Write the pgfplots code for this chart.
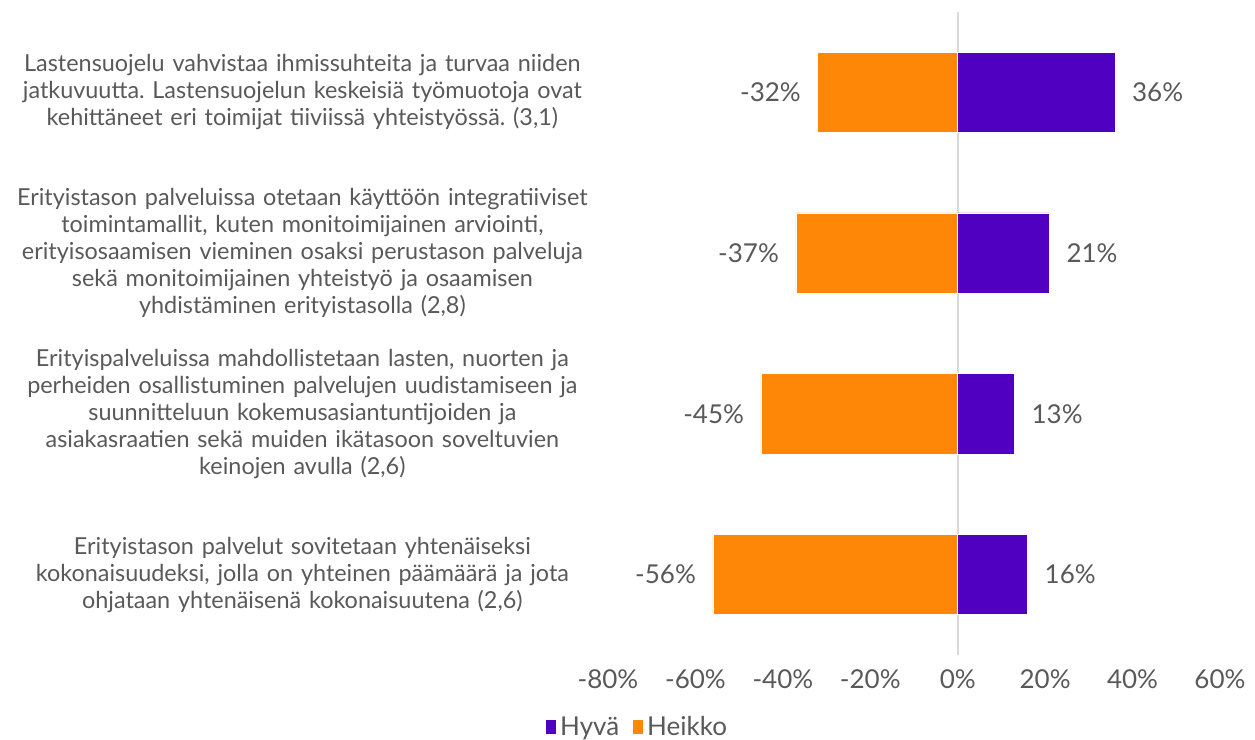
\documentclass[border=0pt]{standalone}
\usepackage{fontspec}
\setmainfont{Lato}
\usepackage{pgfplots}
\pgfplotsset{compat=1.18}
\definecolor{hyva}{HTML}{5000C0}
\definecolor{heikko}{HTML}{FF8708}
\definecolor{txt}{HTML}{595959}
\frenchspacing

\begin{document}
\begin{tikzpicture}
\begin{axis}[
    name=ax,
    scale only axis,
    width=306pt, height=321.5pt,
    xbar, bar width=0.5, bar shift=0pt,
    xmin=-80, xmax=60,
    ymin=-0.5, ymax=3.5, y dir=reverse,
    xtick={-80,-60,...,60},
    ytick={0,1,2,3},
    yticklabels={
      {Lastensuojelu vahvistaa ihmissuhteita ja turvaa niiden\\jatkuvuutta. Lastensuojelun keskeisiä työmuotoja ovat\\kehittäneet eri toimijat tiiviissä yhteistyössä. (3,1)},
      {Erityistason palveluissa otetaan käyttöön integratiiviset\\toimintamallit, kuten monitoimijainen arviointi,\\erityisosaamisen vieminen osaksi perustason palveluja\\sekä monitoimijainen yhteistyö ja osaamisen\\yhdistäminen erityistasolla (2,8)},
      {Erityispalveluissa mahdollistetaan lasten, nuorten ja\\perheiden osallistuminen palvelujen uudistamiseen ja\\suunnitteluun kokemusasiantuntijoiden ja\\asiakasraatien sekä muiden ikätasoon soveltuvien\\keinojen avulla (2,6)},
      {Erityistason palvelut sovitetaan yhtenäiseksi\\kokonaisuudeksi, jolla on yhteinen päämäärä ja jota\\ohjataan yhtenäisenä kokonaisuutena (2,6)}
    },
    axis line style={draw=none},
    tick style={draw=none},
    extra x ticks={0},
    extra x tick labels={},
    extra x tick style={grid=major, major grid style={draw=black!15, line width=0.8pt}},
    xticklabel={\pgfmathprintnumber{\tick}\%},
    /pgf/number format/assume math mode=true,
    xticklabel style={font=\fontsize{13}{15}\selectfont, text=txt, yshift=-4pt},
    yticklabel style={font=\fontsize{11.7}{13.5}\selectfont, text=txt, text width=300pt, align=center, xshift=5pt},
    nodes near coords={\pgfmathprintnumber\pgfplotspointmeta\%},
    every node near coord/.append style={font=\fontsize{13}{15}\selectfont, text=txt},
    legend style={at={(0.05,-0.113)}, anchor=center, draw=none, legend columns=2,
      font=\fontsize{13}{15}\selectfont, text=txt,
      /tikz/every even column/.append style={column sep=5pt}},
    legend image code/.code={\fill[#1,draw=none] (0pt,-3pt) rectangle (5pt,4pt);},
]
\addplot[fill=hyva, draw=white, line width=0.4pt,
  every node near coord/.append style={anchor=west, xshift=5pt}]
  coordinates {(36,0) (21,1) (13,2) (16,3)};
\addplot[fill=heikko, draw=white, line width=0.4pt,
  every node near coord/.append style={anchor=east, xshift=-5pt}]
  coordinates {(-32,0) (-37,1) (-45,2) (-56,3)};
\legend{Hyvä, Heikko}
\end{axis}
\pgfresetboundingbox
\path ([xshift=-304pt,yshift=-42.5pt]ax.south west) rectangle ([xshift=17.5pt,yshift=6pt]ax.north east);
\end{tikzpicture}
\end{document}
